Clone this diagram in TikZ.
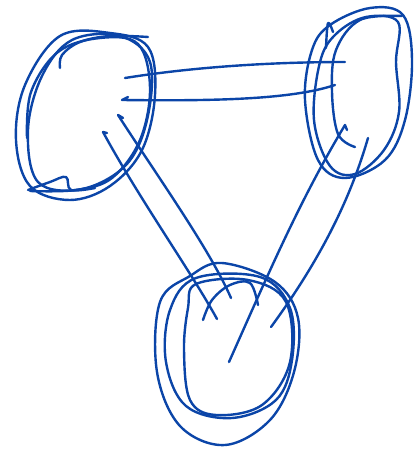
\documentclass[tikz,border=0pt]{standalone}
\usetikzlibrary{calc}
\definecolor{ink}{HTML}{0B45A8}
\tikzset{
  ink/.style={draw=ink, line width=2.4pt, line cap=round, line join=round},
}
\begin{document}
\begin{tikzpicture}[x=1pt,y=-1pt]
\useasboundingbox (0,0) rectangle (415,449);
% ---- left circle (scribbled loops)
\coordinate (L) at (85,115);
\draw[ink] plot[smooth cycle, tension=0.6] coordinates {(60,36) (110,33) (148,47) (155,95) (142,150) (110,186) (70,200) (30,186) (16,140) (25,85)};
\draw[ink] plot[smooth cycle, tension=0.6] coordinates {(72,40) (120,36) (150,62) (147,120) (126,165) (82,189) (38,182) (28,130) (42,76)};
\draw[ink] plot[smooth, tension=0.6] coordinates {(27,138) (31,92) (58,52) (100,38) (138,44) (150,88) (140,140) (112,178) (76,190) (30,191)};
\draw[ink] plot[smooth, tension=0.6] coordinates {(28,190) (50,182) (66,177) (71,190) (95,188)};
\draw[ink] plot[smooth, tension=0.6] coordinates {(148,37) (110,36) (80,42) (62,55) (60,68)};
% ---- right circle
\coordinate (R) at (358,95);
\draw[ink] plot[smooth cycle, tension=0.6] coordinates {(330,25) (370,8) (403,15) (412,60) (405,120) (385,160) (345,178) (318,160) (305,100) (312,50)};
\draw[ink] plot[smooth cycle, tension=0.6] coordinates {(336,34) (366,17) (398,22) (396,62) (399,112) (384,150) (355,174) (330,166) (314,120) (320,62)};
\draw[ink] plot[smooth, tension=0.6] coordinates {(355,147) (338,134) (332,92) (336,50) (360,20) (402,16)};
\draw[ink] plot[smooth, tension=0.6] coordinates {(326,48) (328,23) (333,32)};
% ---- bottom circle
\coordinate (B) at (225,355);
\draw[ink] plot[smooth cycle, tension=0.6] coordinates {(222,263) (275,282) (298,318) (294,372) (270,420) (225,445) (180,426) (157,372) (160,302) (190,276)};
\draw[ink] plot[smooth cycle, tension=0.6] coordinates {(196,278) (260,277) (290,308) (292,360) (276,400) (232,418) (186,406) (166,362) (170,310)};
\draw[ink] plot[smooth cycle, tension=0.6] coordinates {(196,284) (248,280) (286,302) (290,362) (262,405) (216,415) (190,400) (184,350) (188,308)};
\draw[ink] plot[smooth, tension=0.6] coordinates {(203,320) (212,300) (230,285) (250,283) (258,305)};
% ---- connector endpoints
\coordinate (lr1a) at (125,78);  \coordinate (lr1b) at (345,62);
\coordinate (lr2a) at (122,100); \coordinate (lr2b) at (335,85);
\coordinate (lb1a) at (103,132); \coordinate (lb1b) at (217,319);
\coordinate (lb2a) at (118,115); \coordinate (lb2b) at (231,298);
\coordinate (rb1a) at (345,125); \coordinate (rb1b) at (229,362);
\coordinate (rb2a) at (368,138); \coordinate (rb2b) at (271,327);
% top pair
\draw[ink] (lr1a) .. controls (200,66) and (280,62) .. (lr1b);
\draw[ink] ($(lr2a)+(6,-3)$) -- (lr2a) .. controls (210,101) and (290,100) .. (lr2b);
% left-bottom pair
\draw[ink] ($(lb1a)+(4,1)$) -- (lb1a) .. controls (140,200) and (190,270) .. (lb1b);
\draw[ink] ($(lb2a)+(5,3)$) -- (lb2a) .. controls (160,180) and (210,250) .. (lb2b);
% right-bottom pair
\draw[ink] ($(rb1a)+(2,5)$) -- (rb1a) .. controls (300,200) and (270,270) .. (rb1b);
\draw[ink] (rb2a) .. controls (350,200) and (320,260) .. (rb2b);
\end{tikzpicture}
\end{document}
